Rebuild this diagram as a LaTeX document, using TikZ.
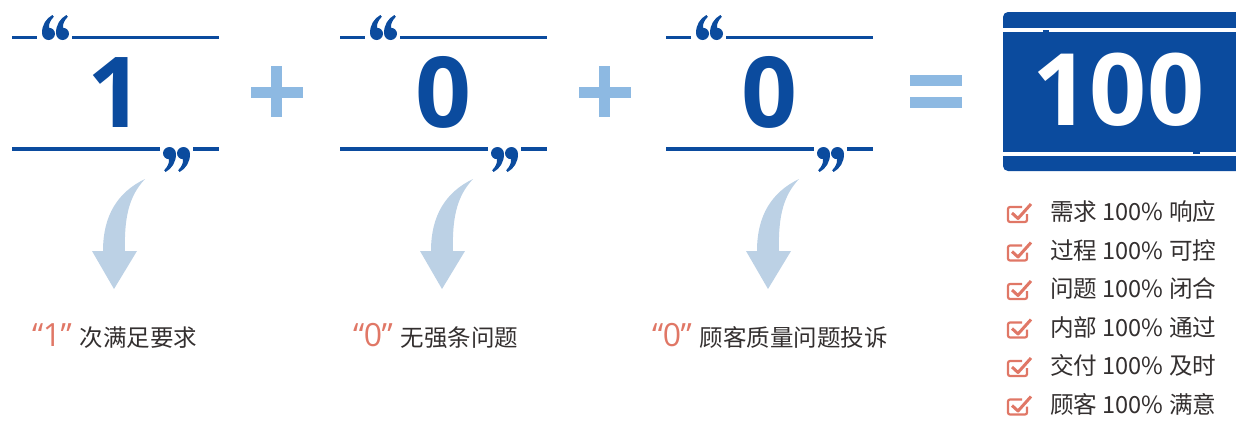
\documentclass[tikz,border=0pt]{standalone}
\usepackage{fontspec}
\setmainfont{Noto Sans CJK SC}
\newfontfamily\numfont{Open Sans}
\definecolor{bl}{HTML}{0B4B9E}
\definecolor{lb}{HTML}{8DB9E2}
\definecolor{arr}{HTML}{BCD1E5}
\definecolor{sal}{HTML}{E07766}
\definecolor{txt}{HTML}{332F2F}
\newcommand\qnum[1]{{\numfont\fontsize{32}{32}\selectfont\color{sal}“\kern-0.5pt#1\kern-0.5pt”}}
\tikzset{
  bar/.style={draw=bl, line width=3.6pt},
  cblob/.pic={\fill[bl] (6.5,0) .. controls (3,0) and (0,2.8) .. (0,6.3) .. controls (0,9.6) and (2.8,12.2) .. (6,12.2) .. controls (6.6,15.5) and (4.5,20) .. (1.2,23.2) -- (2.6,25) .. controls (9,21.5) and (13,15) .. (13,7) .. controls (13,3) and (10,0) .. (6.5,0) -- cycle;},
  carrow/.pic={\fill[arr] (0,0) .. controls (-27,13) and (-42,36) .. (-42,72) -- (-53,72) -- (-31,110) -- (-8,72) -- (-20,72) .. controls (-21,36) and (-15,16) .. (0,0) -- cycle;},
  chk/.pic={\draw[sal, line width=2.2pt, rounded corners=2pt] (14,4) -- (0,4) -- (0,19) -- (19,19) -- (19,11);
            \draw[sal, line width=3pt, line join=round] (4,10) -- (10,15.5) -- (23,1);},
  bignum/.style={text=bl, inner sep=0pt, anchor=base, font=\numfont\bfseries\fontsize{98}{98}\selectfont},
  lab/.style={text=txt, inner sep=0pt, anchor=base west, font=\fontsize{23.5}{23.5}\selectfont},
  item/.style={text=txt, inner sep=0pt, anchor=base west, font=\fontsize{23.6}{23.6}\selectfont},
}
\begin{document}
\begin{tikzpicture}[x=1pt,y=-1pt]
\useasboundingbox (0,0) rectangle (1236,421);
\clip (0,0) rectangle (1236,421);
% three quoted numbers
\foreach \dx/\num/\k in {0/1/a,328/0/b,654/0/c}{
  \begin{scope}[xshift=\dx]
    \draw[bar] (12,37.5) -- (37,37.5);
    \draw[bar] (72,37.5) -- (219,37.5);
    \draw[bar] (12,148.8) -- (160,148.8);
    \draw[bar] (193,148.8) -- (219,148.8);
    \pic[rotate=180] at (55,40) {cblob};
    \pic[rotate=180] at (69,40) {cblob};
    \pic at (163,147) {cblob};
    \pic at (177,147) {cblob};
    \node[bignum] (num\k) at (115,127) {\num};
    \pic at (145,179) {carrow};
  \end{scope}
}
% plus and equals signs
\foreach \dx/\k in {0/a,328/b}{
  \fill[lb] (251+\dx,86.5) rectangle (303+\dx,97.5);
  \fill[lb] (271+\dx,66) rectangle (282+\dx,117);
}
\fill[lb] (910,75) rectangle (962,86);
\fill[lb] (910,97) rectangle (962,108);
% result box
\fill[bl, rounded corners=5pt] (1003,12) rectangle (1250,171);
\draw[white, line width=3.6pt] (1003,30) -- (1236,30);
\fill[bl] (1043,30) rectangle (1049,32);
\draw[white, line width=3.6pt] (1003,154) -- (1236,154);
\fill[bl] (1193,152) rectangle (1200,154);
\node[bignum, text=white, font=\numfont\bfseries\fontsize{100}{100}\selectfont] (hundred) at (1118.5,125) {100};
% labels
\node[lab] (lab1) at (32,346) {\qnum{1}\hspace{8pt}次满足要求};
\node[lab] (lab2) at (353,346) {\qnum{0}\hspace{8pt}无强条问题};
\node[lab] (lab3) at (652,346) {\qnum{0}\hspace{8pt}顾客质量问题投诉};
% checklist
\foreach \t [count=\i from 0] in {需求 100\% 响应,过程 100\% 可控,问题 100\% 闭合,内部 100\% 通过,交付 100\% 及时,顾客 100\% 满意}{
  \pic at (1008,{203+38.5*\i}) {chk};
  \node[item] (it\i) at (1050,{220.5+38.5*\i}) {\t};
}
\end{tikzpicture}
\end{document}
